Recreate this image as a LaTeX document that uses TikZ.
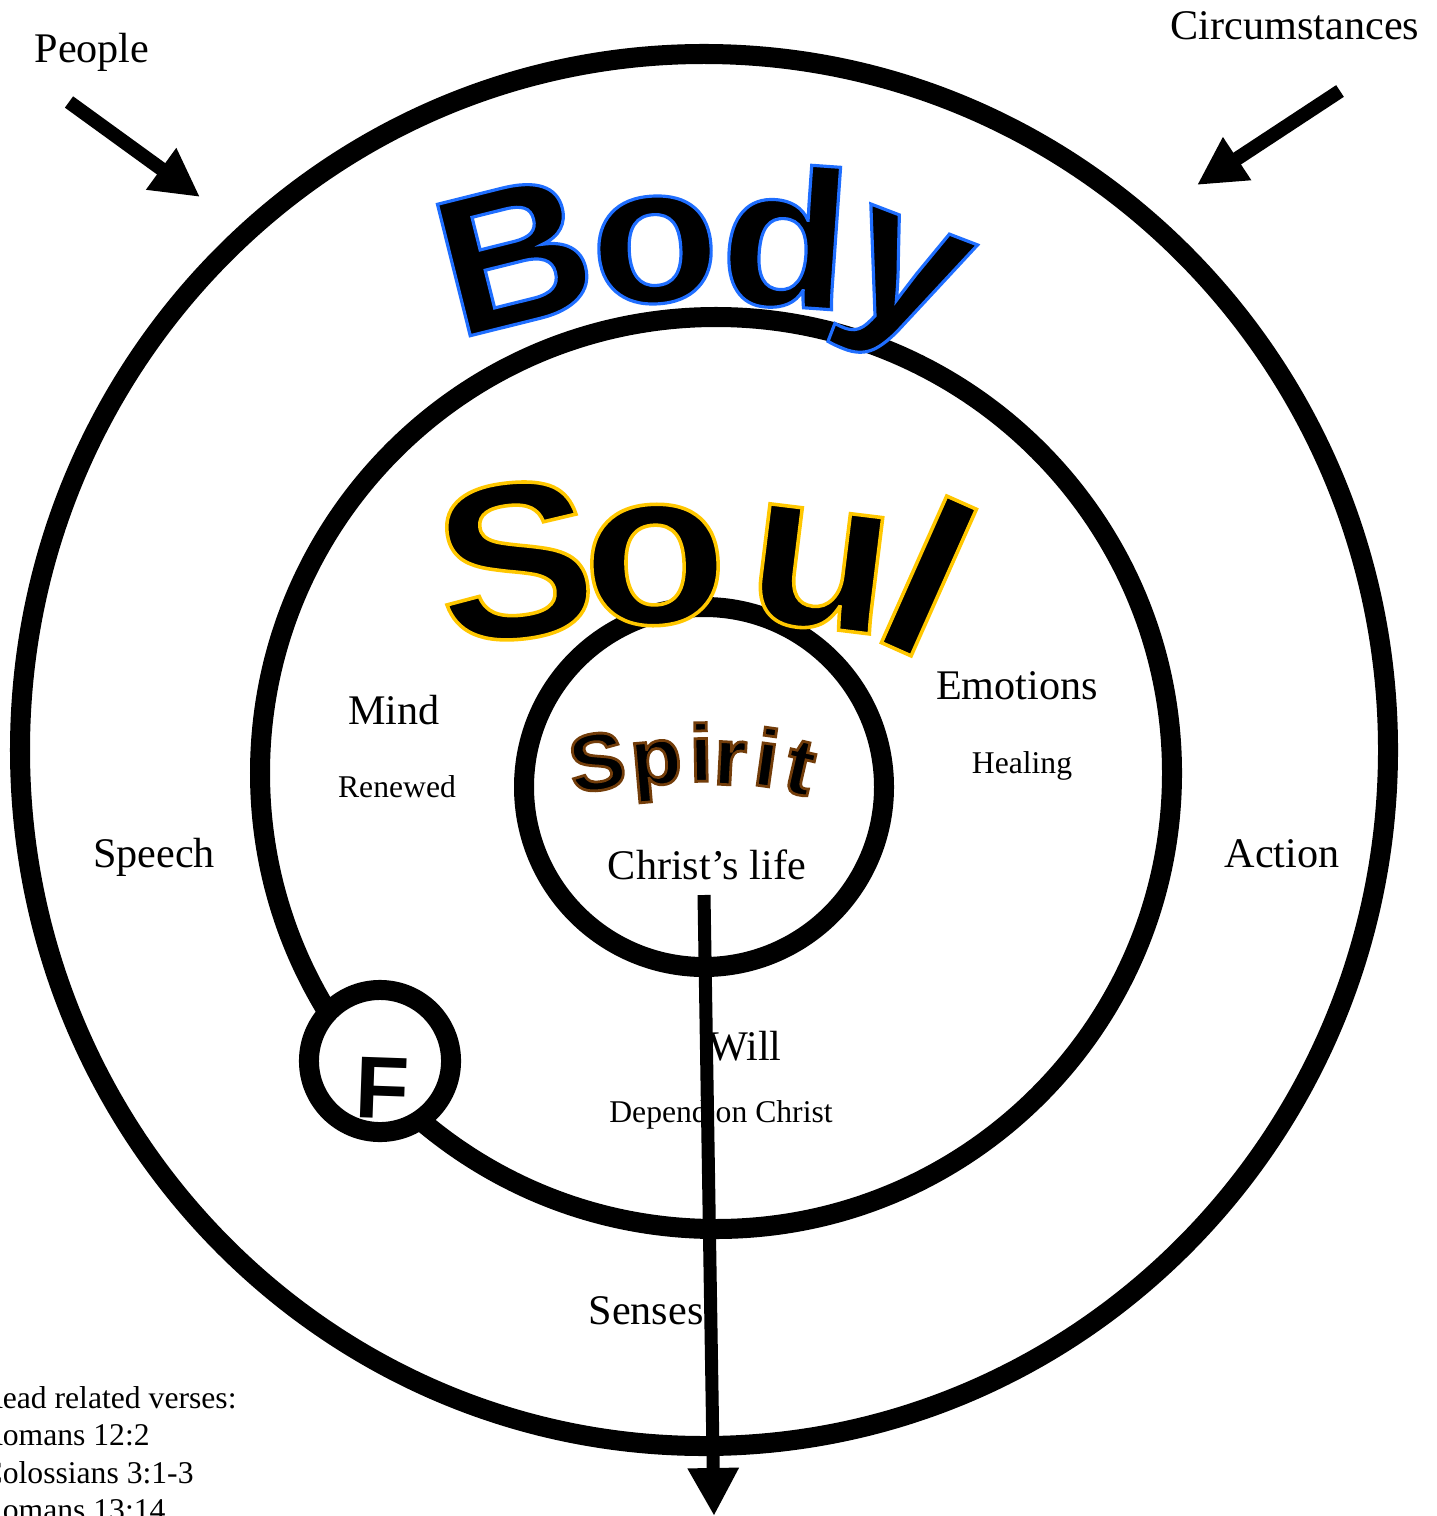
\documentclass[tikz,border=0pt]{standalone}
\usepackage{fontspec}
\setmainfont{Liberation Serif}
\newfontfamily\artfont[FakeBold=1.6, FakeStretch=1.07]{Liberation Sans Bold}
\newfontfamily\smallartfont[FakeBold=3.4, FakeStretch=1.04]{Liberation Sans Bold}
\newfontfamily\plainartfont{Liberation Sans Bold}
\usetikzlibrary{arrows.meta}

% black letter with a coloured edge
\newcommand\outlined[2]{\special{pdf:bcolor [0 0 0] [#1]}#2\special{pdf:ecolor}}

\begin{document}
\begin{tikzpicture}[x=0.01cm, y=-0.01cm,
                every node/.style={inner sep=0pt},
                ring/.style={draw, line width=0.2cm},
                tag/.style={font=\fontsize{12}{14}\selectfont, anchor=base},
                subtag/.style={font=\fontsize{9}{11}\selectfont, anchor=base},
                pointer/.style={line width=0.14cm, -{Triangle[length=0.48cm, width=0.48cm]}},
                bodyletter/.style={font=\artfont\fontsize{56}{60}\selectfont},
                soulletter/.style={font=\artfont\fontsize{63}{66}\selectfont},
                spiritletter/.style={font=\smallartfont\fontsize{23}{26}\selectfont}]

    \clip (0,0) rectangle (1436,1516);

    % Rings
    \draw[ring] (704,750) ellipse [x radius=684, y radius=696];
    \draw[ring] (716,773) circle [radius=456];
    \draw[ring] (704,787) circle [radius=180];
    \node[ring, circle, fill=white, minimum size=1.42cm] (fring) at (380,1061) {};
    \node[font=\plainartfont\fontsize{25}{28}\selectfont, rotate=-2] (fletter) at (382,1088) {F};

    % Word art
    \foreach \ch/\px/\py/\rot [count=\i] in {B/514/255/14, o/655/250/3, d/786/236/-4, y/898/292/-21}
        \node[bodyletter, rotate=\rot] (body-\i) at (\px,\py) {\outlined{0.12 0.43 1}{\ch}};
    \foreach \ch/\px/\py/\rot [count=\i] in {S/515/561/6, o/655/565/2, u/820/570/-7, l/929/576/-24}
        \node[soulletter, rotate=\rot] (soul-\i) at (\px,\py) {\outlined{1 0.78 0}{\ch}};
    \foreach \ch/\px/\py/\rot [count=\i] in {S/597/762/8, p/657/771/5, i/701/752/1, r/730/763/-3, i/767/757/-8, t/800/768/-13}
        \node[spiritletter, rotate=\rot] (spirit-\i) at (\px,\py) {\outlined{0.45 0.24 0.04}{\ch}};

    % Labels
    \node[tag] (people) at (92,63) {People};
    \node[tag] (circ) at (1295,40) {Circumstances};
    \node[tag] (speech) at (154,867) {Speech};
    \node[tag] (action) at (1282,867) {Action};
    \node[tag] (mind) at (394,724) {Mind};
    \node[subtag] (renewed) at (397,797) {Renewed};
    \node[tag] (emotions) at (1017,699) {Emotions};
    \node[subtag] (healing) at (1022,773) {Healing};
    \node[tag] (life) at (707,879) {Christ’s life};
    \node[tag] (will) at (745,1060) {Will};
    \node[subtag] (depend) at (721,1122) {Depend on Christ};
    \node[tag] (senses) at (646,1324) {Senses};
    \node[font=\fontsize{9}{10.6}\selectfont, align=left, anchor=north west] (verses) at (-19,1386)
        {Read related verses:\\Romans 12:2\\Colossians 3:1-3\\Romans 13:14};

    % Arrows
    \coordinate (people-tail) at (69,102);
    \coordinate (people-tip) at (200,197);
    \coordinate (circ-tail) at (1340,91);
    \coordinate (circ-tip) at (1197,185);
    \coordinate (will-top) at (704,895);
    \coordinate (will-tip) at (714,1516);
    \draw[pointer] (people-tail) -- (people-tip);
    \draw[pointer] (circ-tail) -- (circ-tip);
    \draw[pointer, line width=0.13cm] (will-top) -- (will-tip);
\end{tikzpicture}
\end{document}
